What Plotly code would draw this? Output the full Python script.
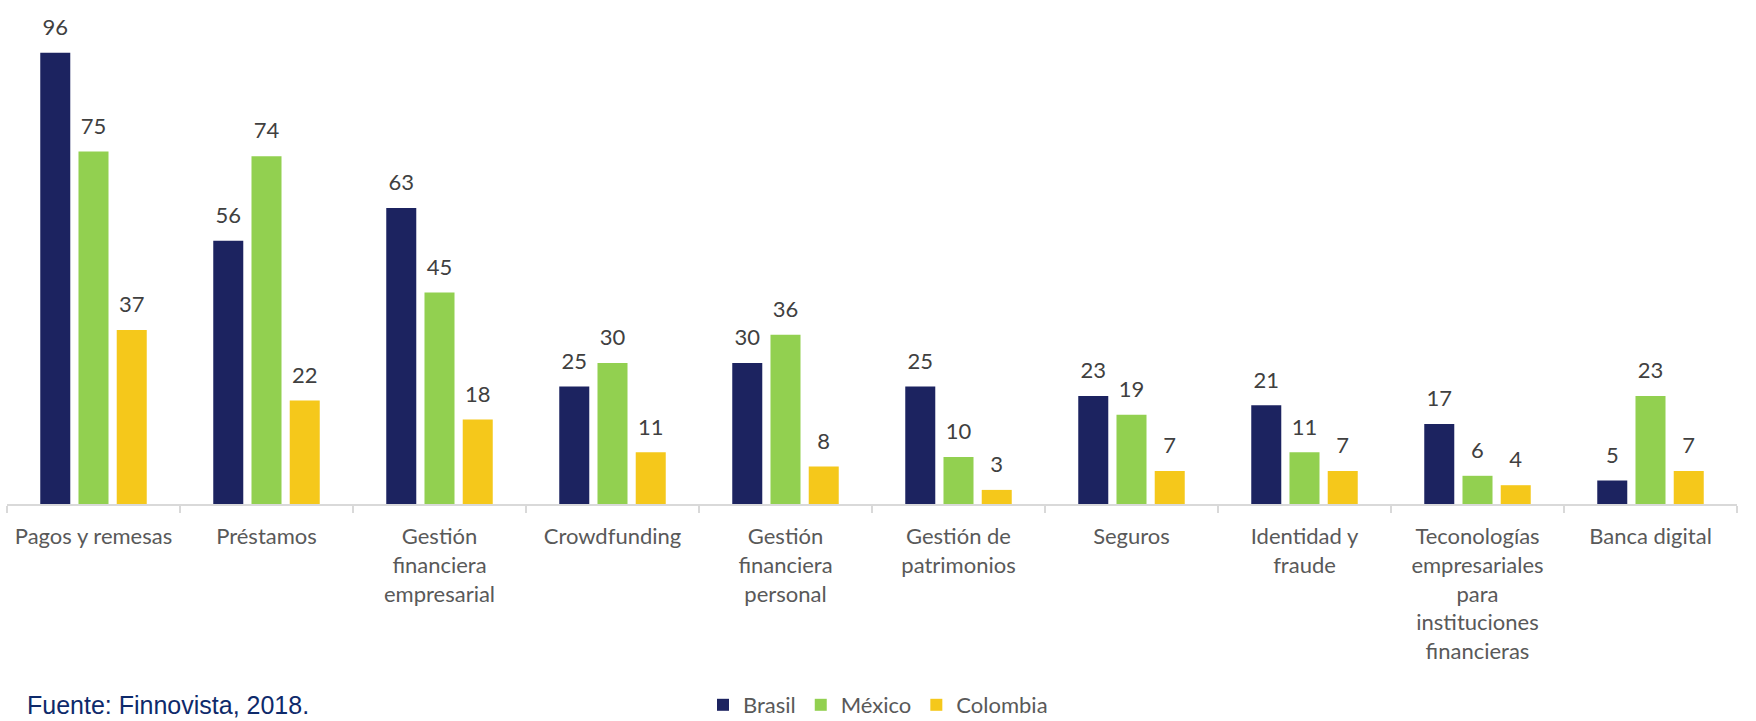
import plotly.graph_objects as go

categories = [
    "Pagos y remesas",
    "Préstamos",
    "Gestión<br>financiera<br>empresarial",
    "Crowdfunding",
    "Gestión<br>financiera<br>personal",
    "Gestión de<br>patrimonios",
    "Seguros",
    "Identidad y<br>fraude",
    "Teconologías<br>empresariales<br>para<br>instituciones<br>financieras",
    "Banca digital",
]
series_names = ["Brasil", "México", "Colombia"]
brasil = [96, 56, 63, 25, 30, 25, 23, 21, 17, 5]
mexico = [75, 74, 45, 30, 36, 10, 19, 11, 6, 23]
colombia = [37, 22, 18, 11, 8, 3, 7, 7, 4, 7]
colors = ["#1C2360", "#92D050", "#F5C81B"]

FONT = "Lato"
BARGAP = 0.337

fig = go.Figure()
for name, vals, col in zip(series_names, [brasil, mexico, colombia], colors):
    fig.add_trace(go.Bar(
        name=name, x=categories, y=vals, marker=dict(color=col, line=dict(width=0)),
        hoverinfo="skip",
    ))
for name, vals in zip(series_names, [brasil, mexico, colombia]):
    fig.add_trace(go.Scatter(
        x=categories, y=vals, mode="markers+text", text=[str(v) for v in vals],
        textposition="top center",
        textfont=dict(family=FONT, size=22, color="#404040"),
        marker=dict(size=18, opacity=0), showlegend=False, cliponaxis=False,
        hoverinfo="skip",
    ))

fig.update_layout(
    width=1756, height=721,
    margin=dict(l=7, r=19, t=34, b=217),
    paper_bgcolor="white", plot_bgcolor="white",
    barmode="group", bargap=BARGAP, bargroupgap=0.215,
    scattermode="group", scattergap=BARGAP,
    font=dict(family=FONT, size=22, color="#595959"),
    xaxis=dict(
        type="category", showline=True, linecolor="#D9D9D9", linewidth=2,
        ticks="outside", tickson="boundaries", ticklen=7, tickcolor="#D9D9D9", tickwidth=2,
        tickfont=dict(family=FONT, size=22, color="#595959"),
        ticklabelstandoff=12, showgrid=False, zeroline=False,
    ),
    yaxis=dict(range=[0, 100], visible=False, showgrid=False, zeroline=False),
    legend=dict(
        orientation="h", xref="container", yref="container", x=0.5, y=1 - 705 / 721,
        xanchor="center", yanchor="middle",
        font=dict(family=FONT, size=22, color="#595959"),
        itemwidth=30, tracegroupgap=0,
    ),
    annotations=[dict(
        text="Fuente: Finnovista, 2018.", xref="paper", yref="paper",
        x=(25 - 7) / 1730, y=(504 - 705) / 470, xanchor="left", yanchor="middle",
        showarrow=False, font=dict(family="Liberation Sans", size=25, color="#0E2A6B"),
    )],
)

fig.write_html("out.html")
